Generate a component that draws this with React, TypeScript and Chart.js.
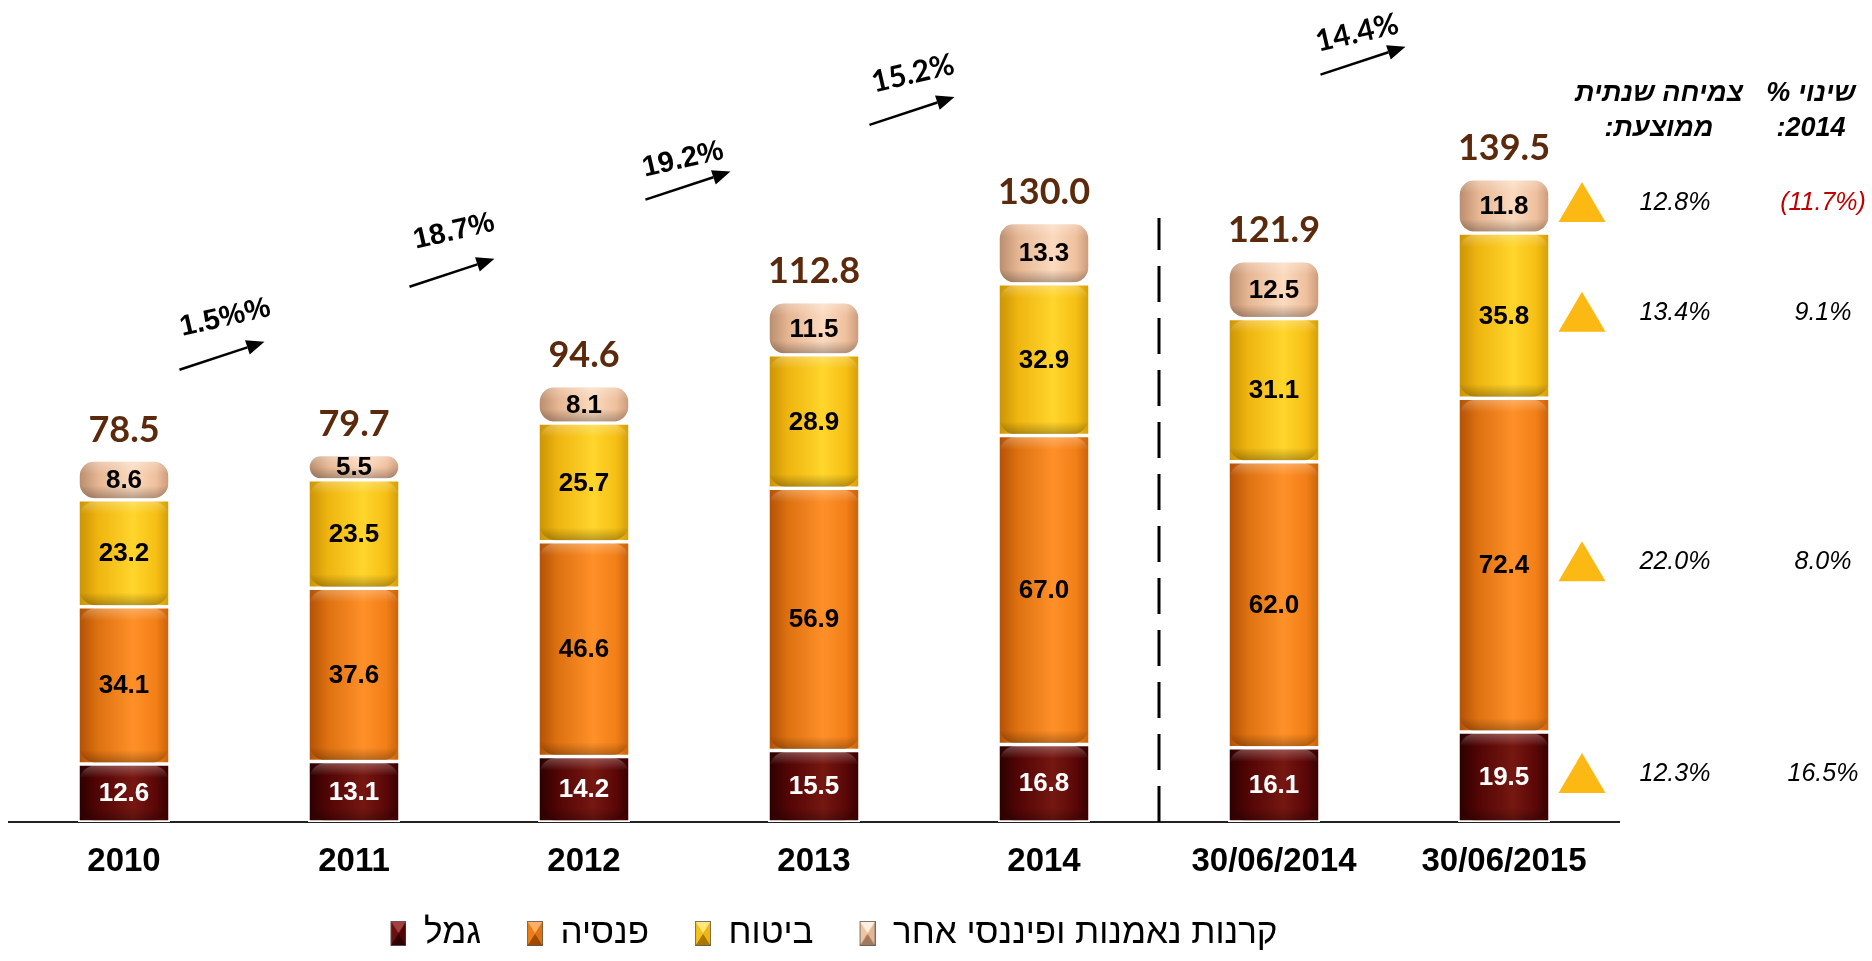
import React, { useEffect, useRef } from 'react';
import { Chart, registerables } from 'chart.js';

Chart.register(...registerables);

// ---------------- DATA ----------------
const categories = ['2010', '2011', '2012', '2013', '2014', '30/06/2014', '30/06/2015'];
const seriesNames = ['גמל', 'פנסיה', 'ביטוח', 'קרנות נאמנות ופיננסי אחר'];
const gemel = [12.6, 13.1, 14.2, 15.5, 16.8, 16.1, 19.5];
const pensia = [34.1, 37.6, 46.6, 56.9, 67.0, 62.0, 72.4];
const bituach = [23.2, 23.5, 25.7, 28.9, 32.9, 31.1, 35.8];
const kranot = [8.6, 5.5, 8.1, 11.5, 13.3, 12.5, 11.8];
const totals = [78.5, 79.7, 94.6, 112.8, 130.0, 121.9, 139.5];
const growthLabels = ['1.5%%', '18.7%', '19.2%', '15.2%', '14.4%'];
const avgGrowth = ['12.3%', '22.0%', '13.4%', '12.8%'];
const change2014 = ['16.5%', '8.0%', '9.1%', '(11.7%)'];
// header lines; each line is a list of pieces in on-screen order (left to right)
const headerAvg = [['צמיחה שנתית'], [':', 'ממוצעת']];
const headerChange = [['%', ' ', 'שינוי'], [':', '2014']];

// ---------------- LAYOUT / STYLE ----------------
const W = 1872;
const H = 961;
const BASELINE_Y = 822;
const Y_MAX = 175;
const RADIUS = 16;
const DIVIDER_AT = 4.5;
const DIVIDER_TOP = 131;

// arrow (x: category index, y: value units) and label anchor positions
const growthMarks = [
  { x: 0.426, y: 101.1, tx: 0.44, ty: 109.3, font: 'bold 29px "Liberation Sans", Arial, sans-serif' },
  { x: 1.426, y: 119.1, tx: 1.435, ty: 128, font: 'bold 29px "Liberation Sans", Arial, sans-serif' },
  { x: 2.452, y: 138, tx: 2.43, ty: 143.6, font: 'bold 29px "Liberation Sans", Arial, sans-serif' },
  { x: 3.426, y: 154.2, tx: 3.43, ty: 162.3, font: 'bold 30px Lato, "Liberation Sans", sans-serif' },
  { x: 5.387, y: 165.1, tx: 5.361, ty: 171.1, font: 'bold 30px Lato, "Liberation Sans", sans-serif' },
];

const seriesStops = [
  ['#2a0000', '#520505', '#761711', '#5a0707', '#340000'],
  ['#b04f04', '#de7211', '#ff9029', '#f27f17', '#c5600a'],
  ['#c89204', '#efb511', '#ffd52c', '#f6bf15', '#d09a08'],
  ['#b58a6b', '#e6b693', '#fbdabf', '#efc09d', '#c79677'],
];
const seriesBase = ['#6b0f0f', '#f07d12', '#f7c115', '#f0c4a0'];
const seriesLight = ['#a04040', '#ffb066', '#ffe680', '#fff0e2'];
const seriesDark = ['#300000', '#a04a00', '#a87800', '#a07a5e'];
const labelColors = ['#ffffff', '#000000', '#000000', '#000000'];

function makeLegendBox(di: number): HTMLCanvasElement {
  const c = document.createElement('canvas');
  const bw = 16;
  const bh = 25;
  const gap = 40;
  c.width = gap + bw;
  c.height = bh;
  const g = c.getContext('2d')!;
  const x0 = gap;
  const cx = x0 + bw / 2;
  const cy = bh / 2;
  const tri = (pts: number[][], col: string) => {
    g.beginPath();
    g.moveTo(pts[0][0], pts[0][1]);
    for (let i = 1; i < pts.length; i++) g.lineTo(pts[i][0], pts[i][1]);
    g.closePath();
    g.fillStyle = col;
    g.fill();
  };
  g.fillStyle = seriesBase[di];
  g.fillRect(x0, 0, bw, bh);
  tri([[x0, 0], [x0 + bw, 0], [cx, cy]], seriesLight[di]);
  tri([[x0, bh], [x0 + bw, bh], [cx, cy]], seriesDark[di]);
  tri([[x0, 0], [x0, bh], [cx, cy]], seriesBase[di]);
  tri([[x0 + bw, 0], [x0 + bw, bh], [cx, cy]], seriesStops[di][1]);
  g.strokeStyle = 'rgba(90,90,90,0.8)';
  g.lineWidth = 1;
  g.strokeRect(x0 + 0.5, 0.5, bw - 1, bh - 1);
  return c;
}

// draws pieces left to right, centred on cx
function drawPieces(ctx: CanvasRenderingContext2D, pieces: string[], cx: number, cy: number) {
  const widths = pieces.map((p) => ctx.measureText(p).width);
  const total = widths.reduce((a, b) => a + b, 0);
  let x = cx - total / 2;
  ctx.textAlign = 'left';
  pieces.forEach((p, i) => {
    if (p.trim()) ctx.fillText(p, x, cy);
    x += widths[i];
  });
}

const annotationPlugin = {
  id: 'chartAnnotations',
  afterDatasetsDraw(chart: any) {
    const { ctx, chartArea } = chart;
    const xs = chart.scales.x;
    const ys = chart.scales.y;
    const series = [gemel, pensia, bituach, kranot];
    ctx.save();
    ctx.direction = 'ltr';

    // cylinder cap shading
    series.forEach((_, di) => {
      const meta = chart.getDatasetMeta(di);
      meta.data.forEach((el: any) => {
        const p = el.getProps(['x', 'y', 'base', 'width'], true);
        const top = Math.min(p.y, p.base);
        const bot = Math.max(p.y, p.base);
        const h = bot - top;
        const left = p.x - p.width / 2;
        if (h <= 2) return;
        const r = Math.min(RADIUS, h / 2, p.width / 2);
        ctx.save();
        ctx.beginPath();
        ctx.roundRect(left + 1.5, top + 1.5, p.width - 3, h - 3, r);
        ctx.clip();
        const g = ctx.createLinearGradient(0, top, 0, bot);
        const e = Math.min(14, h / 2) / h;
        g.addColorStop(0, 'rgba(255,255,255,0.30)');
        g.addColorStop(e, 'rgba(255,255,255,0)');
        g.addColorStop(1 - e, 'rgba(0,0,0,0)');
        g.addColorStop(1, 'rgba(0,0,0,0.30)');
        ctx.fillStyle = g;
        ctx.fillRect(left, top, p.width, h);
        ctx.restore();
      });
    });

    // segment labels
    ctx.textAlign = 'center';
    ctx.textBaseline = 'middle';
    ctx.font = 'bold 26px "Liberation Sans", Arial, sans-serif';
    series.forEach((vals, di) => {
      const meta = chart.getDatasetMeta(di);
      meta.data.forEach((el: any, i: number) => {
        const p = el.getProps(['x', 'y', 'base'], true);
        ctx.fillStyle = labelColors[di];
        ctx.fillText(vals[i].toFixed(1), p.x, (p.y + p.base) / 2 + 1);
      });
    });

    // totals
    ctx.font = 'bold 36px Lato, "Liberation Sans", sans-serif';
    ctx.fillStyle = '#5b2a0c';
    const topMeta = chart.getDatasetMeta(series.length - 1);
    topMeta.data.forEach((el: any, i: number) => {
      const p = el.getProps(['x', 'y'], true);
      ctx.fillText(totals[i].toFixed(1), p.x, p.y - 30);
    });

    // divider
    const dx = xs.getPixelForValue(DIVIDER_AT);
    ctx.save();
    ctx.strokeStyle = '#000';
    ctx.lineWidth = 3;
    ctx.setLineDash([36, 16]);
    ctx.beginPath();
    ctx.moveTo(dx, ys.getPixelForValue(0));
    ctx.lineTo(dx, ys.getPixelForValue(DIVIDER_TOP));
    ctx.stroke();
    ctx.restore();

    // growth arrows
    growthMarks.forEach((m, i) => {
      const mx = xs.getPixelForValue(m.x);
      const my = ys.getPixelForValue(m.y);
      const hx = 42.5;
      const hy = 14;
      const x1 = mx - hx, y1 = my + hy, x2 = mx + hx, y2 = my - hy;
      const ang = Math.atan2(y2 - y1, x2 - x1);
      const hl = 18, hw = 7.5;
      const bx = x2 - hl * Math.cos(ang);
      const by = y2 - hl * Math.sin(ang);
      ctx.strokeStyle = '#000';
      ctx.fillStyle = '#000';
      ctx.lineWidth = 2.5;
      ctx.beginPath();
      ctx.moveTo(x1, y1);
      ctx.lineTo(bx, by);
      ctx.stroke();
      ctx.beginPath();
      ctx.moveTo(x2, y2);
      ctx.lineTo(bx + hw * Math.sin(ang), by - hw * Math.cos(ang));
      ctx.lineTo(bx - hw * Math.sin(ang), by + hw * Math.cos(ang));
      ctx.closePath();
      ctx.fill();

      ctx.save();
      ctx.translate(xs.getPixelForValue(m.tx), ys.getPixelForValue(m.ty));
      ctx.rotate(-13 * Math.PI / 180);
      ctx.font = m.font;
      ctx.textAlign = 'center';
      ctx.textBaseline = 'middle';
      ctx.fillText(growthLabels[i], 0, 0);
      ctx.restore();
    });

    // right side triangles + texts
    const last = categories.length - 1;
    series.forEach((_, di) => {
      const el = chart.getDatasetMeta(di).data[last];
      const p = el.getProps(['x', 'y', 'base', 'width'], true);
      const cy = (p.y + p.base) / 2;
      const tx = p.x + p.width / 2 + 32;
      const tcy = cy - 4;
      ctx.fillStyle = '#fdb913';
      ctx.beginPath();
      ctx.moveTo(tx, tcy - 20);
      ctx.lineTo(tx + 23.5, tcy + 20);
      ctx.lineTo(tx - 23.5, tcy + 20);
      ctx.closePath();
      ctx.fill();

      ctx.font = 'italic 25px "Liberation Sans", Arial, sans-serif';
      ctx.textAlign = 'center';
      ctx.textBaseline = 'middle';
      ctx.fillStyle = '#000';
      ctx.fillText(avgGrowth[di], chartArea.right + 56, cy - 3);
      const ch = change2014[di];
      ctx.fillStyle = ch.startsWith('(') ? '#c00000' : '#000';
      ctx.fillText(ch, chartArea.right + 204, cy - 3);
    });

    // headers
    ctx.font = 'italic bold 27px "Liberation Sans", Arial, sans-serif';
    ctx.fillStyle = '#000';
    ctx.textBaseline = 'middle';
    drawPieces(ctx, headerAvg[0], chartArea.right + 40, chartArea.top + 79);
    drawPieces(ctx, headerAvg[1], chartArea.right + 40, chartArea.top + 114);
    drawPieces(ctx, headerChange[0], chartArea.right + 192, chartArea.top + 79);
    drawPieces(ctx, headerChange[1], chartArea.right + 192, chartArea.top + 114);

    ctx.restore();
  },
};

export default function App() {
  const ref = useRef<HTMLCanvasElement>(null);

  useEffect(() => {
    const canvas = ref.current;
    if (!canvas) return;

    const tickFont = { family: '"Liberation Sans", Arial, sans-serif', size: 33, weight: 'bold' as const };
    const legendFont = { family: '"Liberation Sans", Arial, sans-serif', size: 35 };

    const series = [gemel, pensia, bituach, kranot];
    const legendBoxes = series.map((_, di) => makeLegendBox(di));

    const gradientFor = (di: number) => (c: any) => {
      const chart = c.chart;
      const xs = chart.scales && chart.scales.x;
      if (!xs || c.type !== 'data' || !isFinite(xs.getPixelForValue(c.dataIndex))) return seriesBase[di];
      const cx = xs.getPixelForValue(c.dataIndex);
      const w = (xs.width / categories.length) * 0.4;
      const g = chart.ctx.createLinearGradient(cx - w / 2, 0, cx + w / 2, 0);
      const stops = [0, 0.22, 0.6, 0.85, 1];
      stops.forEach((s, k) => g.addColorStop(s, seriesStops[di][k]));
      return g;
    };

    const chart = new Chart(canvas, {
      type: 'bar',
      data: {
        labels: categories,
        datasets: series.map((vals, di) => ({
          label: seriesNames[di],
          data: vals,
          backgroundColor: gradientFor(di),
          borderColor: '#ffffff',
          borderWidth: 1.75,
          borderRadius: RADIUS,
          borderSkipped: false,
          barPercentage: 0.4,
          categoryPercentage: 1,
          stack: 'total',
        })),
      },
      options: {
        responsive: false,
        animation: false,
        devicePixelRatio: 1,
        layout: { padding: { top: 15, left: 9, right: 253, bottom: 0 } },
        scales: {
          x: {
            stacked: true,
            grid: { display: false, drawTicks: false },
            border: { display: true, color: '#222', width: 2 },
            ticks: { color: '#000', font: tickFont, padding: 20, maxRotation: 0, autoSkip: false },
            afterFit: (s: any) => {
              const lh = s.chart.legend ? s.chart.legend.height : 50;
              s.height = H - BASELINE_Y - lh;
            },
          },
          y: {
            stacked: true,
            display: false,
            min: 0,
            max: Y_MAX,
          },
        },
        plugins: {
          legend: {
            position: 'bottom',
            labels: {
              usePointStyle: true,
              pointStyleWidth: 56,
              color: '#000',
              font: legendFont,
              padding: 6,
              generateLabels: () =>
                seriesNames.map((name, di) => ({
                  text: name,
                  fillStyle: seriesBase[di],
                  strokeStyle: seriesBase[di],
                  lineWidth: 0,
                  pointStyle: legendBoxes[di],
                  hidden: false,
                  datasetIndex: di,
                  fontColor: '#000',
                })),
            },
          },
          tooltip: { enabled: false },
        },
      },
      plugins: [annotationPlugin],
    });

    return () => chart.destroy();
  }, []);

  return (
    <div style={{ position: 'fixed', left: 0, top: 0, width: W, height: H, background: '#ffffff' }}>
      <canvas ref={ref} width={W} height={H} style={{ display: 'block', width: W, height: H }} />
    </div>
  );
}
